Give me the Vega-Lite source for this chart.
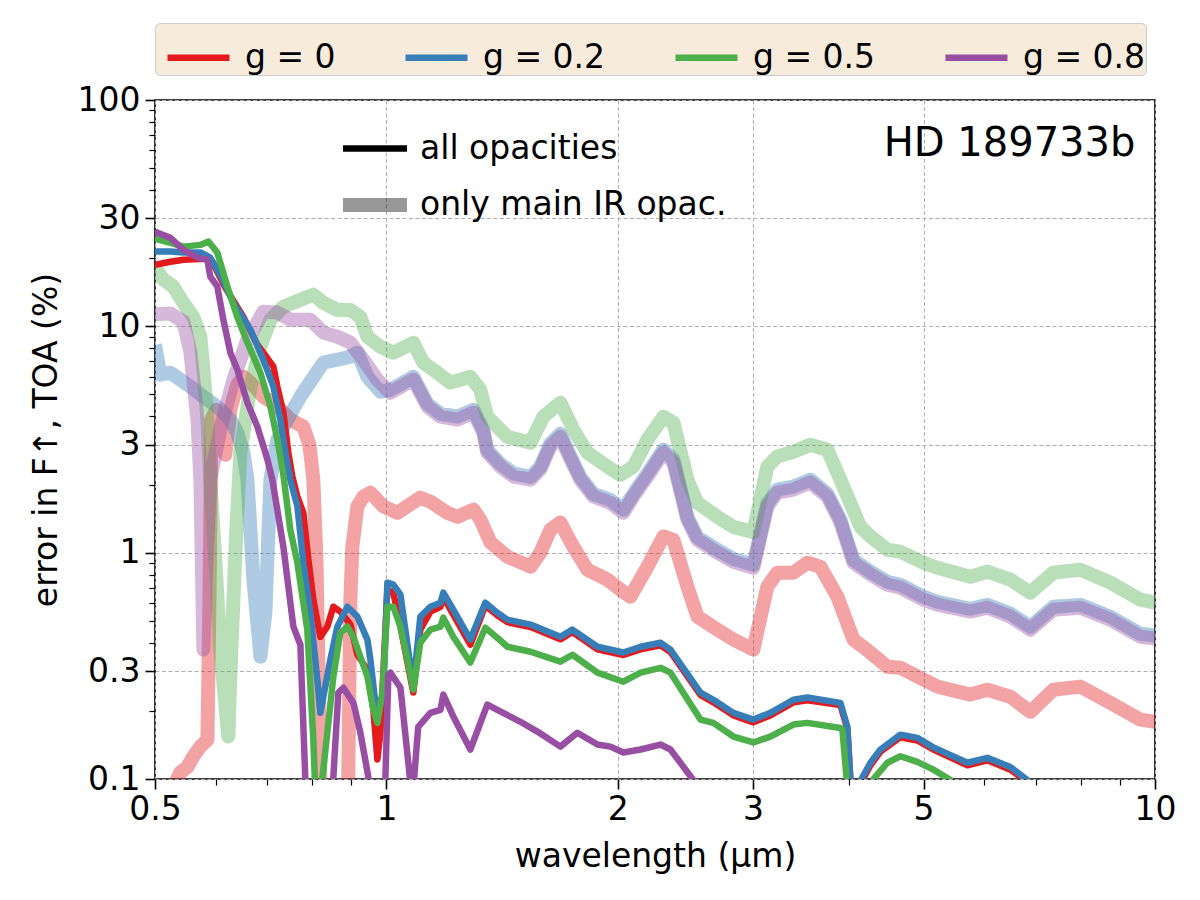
{
"$schema": "https://vega.github.io/schema/vega-lite/v6.json",
"width": 1000, "height": 679,
"autosize": {"type": "none"},
"padding": {"left": 155, "top": 100, "right": 45, "bottom": 121},
"background": "white",
"config": {
  "font": "DejaVu Sans",
  "view": {"stroke": "black", "strokeWidth": 1.6},
  "axis": {"labelFont": "DejaVu Sans", "labelFontSize": 33, "labelColor": "black", "titleFont": "DejaVu Sans", "titleFontSize": 33, "titleFontWeight": "normal", "titleColor": "black", "tickColor": "black", "domain": false, "gridColor": "#b0b0b0", "gridDash": [4, 2.5], "gridWidth": 1},
  "legend": {"labelFont": "DejaVu Sans", "labelFontSize": 33, "labelColor": "black", "labelLimit": 1000}
},
"datasets": {
 "curves": [
  {"g":"g = 0","set":"only main IR opac.","wavelength":0.5158,"error":0.05},
  {"g":"g = 0","set":"only main IR opac.","wavelength":0.5346,"error":0.1},
  {"g":"g = 0","set":"only main IR opac.","wavelength":0.5395,"error":0.107},
  {"g":"g = 0","set":"only main IR opac.","wavelength":0.551,"error":0.113},
  {"g":"g = 0","set":"only main IR opac.","wavelength":0.561,"error":0.126},
  {"g":"g = 0","set":"only main IR opac.","wavelength":0.5728,"error":0.139},
  {"g":"g = 0","set":"only main IR opac.","wavelength":0.585,"error":0.149},
  {"g":"g = 0","set":"only main IR opac.","wavelength":0.5886,"error":0.62},
  {"g":"g = 0","set":"only main IR opac.","wavelength":0.5921,"error":3.87},
  {"g":"g = 0","set":"only main IR opac.","wavelength":0.601,"error":4.28},
  {"g":"g = 0","set":"only main IR opac.","wavelength":0.6101,"error":3.16},
  {"g":"g = 0","set":"only main IR opac.","wavelength":0.6173,"error":2.71},
  {"g":"g = 0","set":"only main IR opac.","wavelength":0.6266,"error":4.28},
  {"g":"g = 0","set":"only main IR opac.","wavelength":0.6398,"error":5.53},
  {"g":"g = 0","set":"only main IR opac.","wavelength":0.6516,"error":5.99},
  {"g":"g = 0","set":"only main IR opac.","wavelength":0.6655,"error":5.64},
  {"g":"g = 0","set":"only main IR opac.","wavelength":0.6795,"error":5.25},
  {"g":"g = 0","set":"only main IR opac.","wavelength":0.6918,"error":4.89},
  {"g":"g = 0","set":"only main IR opac.","wavelength":0.7171,"error":4.51},
  {"g":"g = 0","set":"only main IR opac.","wavelength":0.7345,"error":4.16},
  {"g":"g = 0","set":"only main IR opac.","wavelength":0.75,"error":3.87},
  {"g":"g = 0","set":"only main IR opac.","wavelength":0.7798,"error":3.6},
  {"g":"g = 0","set":"only main IR opac.","wavelength":0.794,"error":3.0},
  {"g":"g = 0","set":"only main IR opac.","wavelength":0.8035,"error":2.1},
  {"g":"g = 0","set":"only main IR opac.","wavelength":0.811,"error":0.931},
  {"g":"g = 0","set":"only main IR opac.","wavelength":0.8156,"error":0.337},
  {"g":"g = 0","set":"only main IR opac.","wavelength":0.8205,"error":0.1},
  {"g":"g = 0","set":"only main IR opac.","wavelength":0.8254,"error":0.05},
  {"g":"g = 0","set":"only main IR opac.","wavelength":0.887,"error":0.05},
  {"g":"g = 0","set":"only main IR opac.","wavelength":0.892,"error":0.1},
  {"g":"g = 0","set":"only main IR opac.","wavelength":0.8978,"error":0.62},
  {"g":"g = 0","set":"only main IR opac.","wavelength":0.903,"error":1.06},
  {"g":"g = 0","set":"only main IR opac.","wavelength":0.9168,"error":1.6},
  {"g":"g = 0","set":"only main IR opac.","wavelength":0.9335,"error":1.77},
  {"g":"g = 0","set":"only main IR opac.","wavelength":0.9532,"error":1.84},
  {"g":"g = 0","set":"only main IR opac.","wavelength":0.9734,"error":1.71},
  {"g":"g = 0","set":"only main IR opac.","wavelength":0.991,"error":1.6},
  {"g":"g = 0","set":"only main IR opac.","wavelength":1.0335,"error":1.5},
  {"g":"g = 0","set":"only main IR opac.","wavelength":1.107,"error":1.75},
  {"g":"g = 0","set":"only main IR opac.","wavelength":1.141,"error":1.68},
  {"g":"g = 0","set":"only main IR opac.","wavelength":1.2,"error":1.5},
  {"g":"g = 0","set":"only main IR opac.","wavelength":1.237,"error":1.44},
  {"g":"g = 0","set":"only main IR opac.","wavelength":1.298,"error":1.55},
  {"g":"g = 0","set":"only main IR opac.","wavelength":1.325,"error":1.4},
  {"g":"g = 0","set":"only main IR opac.","wavelength":1.366,"error":1.11},
  {"g":"g = 0","set":"only main IR opac.","wavelength":1.437,"error":0.96},
  {"g":"g = 0","set":"only main IR opac.","wavelength":1.54,"error":0.867},
  {"g":"g = 0","set":"only main IR opac.","wavelength":1.586,"error":1.0},
  {"g":"g = 0","set":"only main IR opac.","wavelength":1.634,"error":1.26},
  {"g":"g = 0","set":"only main IR opac.","wavelength":1.684,"error":1.36},
  {"g":"g = 0","set":"only main IR opac.","wavelength":1.751,"error":1.06},
  {"g":"g = 0","set":"only main IR opac.","wavelength":1.826,"error":0.841},
  {"g":"g = 0","set":"only main IR opac.","wavelength":1.939,"error":0.76},
  {"g":"g = 0","set":"only main IR opac.","wavelength":2.016,"error":0.686},
  {"g":"g = 0","set":"only main IR opac.","wavelength":2.077,"error":0.639},
  {"g":"g = 0","set":"only main IR opac.","wavelength":2.186,"error":0.867},
  {"g":"g = 0","set":"only main IR opac.","wavelength":2.293,"error":1.18},
  {"g":"g = 0","set":"only main IR opac.","wavelength":2.363,"error":1.14},
  {"g":"g = 0","set":"only main IR opac.","wavelength":2.464,"error":0.708},
  {"g":"g = 0","set":"only main IR opac.","wavelength":2.539,"error":0.522},
  {"g":"g = 0","set":"only main IR opac.","wavelength":2.695,"error":0.457},
  {"g":"g = 0","set":"only main IR opac.","wavelength":2.828,"error":0.413},
  {"g":"g = 0","set":"only main IR opac.","wavelength":3.002,"error":0.373},
  {"g":"g = 0","set":"only main IR opac.","wavelength":3.131,"error":0.708},
  {"g":"g = 0","set":"only main IR opac.","wavelength":3.226,"error":0.816},
  {"g":"g = 0","set":"only main IR opac.","wavelength":3.385,"error":0.816},
  {"g":"g = 0","set":"only main IR opac.","wavelength":3.53,"error":0.903},
  {"g":"g = 0","set":"only main IR opac.","wavelength":3.67,"error":0.867},
  {"g":"g = 0","set":"only main IR opac.","wavelength":3.862,"error":0.639},
  {"g":"g = 0","set":"only main IR opac.","wavelength":4.052,"error":0.413},
  {"g":"g = 0","set":"only main IR opac.","wavelength":4.264,"error":0.362},
  {"g":"g = 0","set":"only main IR opac.","wavelength":4.486,"error":0.313},
  {"g":"g = 0","set":"only main IR opac.","wavelength":4.664,"error":0.31},
  {"g":"g = 0","set":"only main IR opac.","wavelength":4.996,"error":0.275},
  {"g":"g = 0","set":"only main IR opac.","wavelength":5.21,"error":0.256},
  {"g":"g = 0","set":"only main IR opac.","wavelength":5.752,"error":0.236},
  {"g":"g = 0","set":"only main IR opac.","wavelength":6.051,"error":0.248},
  {"g":"g = 0","set":"only main IR opac.","wavelength":6.484,"error":0.231},
  {"g":"g = 0","set":"only main IR opac.","wavelength":6.884,"error":0.198},
  {"g":"g = 0","set":"only main IR opac.","wavelength":7.375,"error":0.248},
  {"g":"g = 0","set":"only main IR opac.","wavelength":7.995,"error":0.256},
  {"g":"g = 0","set":"only main IR opac.","wavelength":8.749,"error":0.217},
  {"g":"g = 0","set":"only main IR opac.","wavelength":9.57,"error":0.183},
  {"g":"g = 0","set":"only main IR opac.","wavelength":10,"error":0.179},

  {"g":"g = 0.2","set":"only main IR opac.","wavelength":0.5,"error":8.3},
  {"g":"g = 0.2","set":"only main IR opac.","wavelength":0.508,"error":6.11},
  {"g":"g = 0.2","set":"only main IR opac.","wavelength":0.5236,"error":6.24},
  {"g":"g = 0.2","set":"only main IR opac.","wavelength":0.556,"error":5.41},
  {"g":"g = 0.2","set":"only main IR opac.","wavelength":0.578,"error":4.89},
  {"g":"g = 0.2","set":"only main IR opac.","wavelength":0.6026,"error":4.42},
  {"g":"g = 0.2","set":"only main IR opac.","wavelength":0.6266,"error":3.87},
  {"g":"g = 0.2","set":"only main IR opac.","wavelength":0.6398,"error":3.39},
  {"g":"g = 0.2","set":"only main IR opac.","wavelength":0.6516,"error":2.77},
  {"g":"g = 0.2","set":"only main IR opac.","wavelength":0.6595,"error":2.1},
  {"g":"g = 0.2","set":"only main IR opac.","wavelength":0.6714,"error":0.76},
  {"g":"g = 0.2","set":"only main IR opac.","wavelength":0.6856,"error":0.347},
  {"g":"g = 0.2","set":"only main IR opac.","wavelength":0.696,"error":0.543},
  {"g":"g = 0.2","set":"only main IR opac.","wavelength":0.7065,"error":2.1},
  {"g":"g = 0.2","set":"only main IR opac.","wavelength":0.7214,"error":3.16},
  {"g":"g = 0.2","set":"only main IR opac.","wavelength":0.7433,"error":3.87},
  {"g":"g = 0.2","set":"only main IR opac.","wavelength":0.7729,"error":4.89},
  {"g":"g = 0.2","set":"only main IR opac.","wavelength":0.7963,"error":5.69},
  {"g":"g = 0.2","set":"only main IR opac.","wavelength":0.8279,"error":6.91},
  {"g":"g = 0.2","set":"only main IR opac.","wavelength":0.8634,"error":7.12},
  {"g":"g = 0.2","set":"only main IR opac.","wavelength":0.8978,"error":7.35},
  {"g":"g = 0.2","set":"only main IR opac.","wavelength":0.9168,"error":7.65},
  {"g":"g = 0.2","set":"only main IR opac.","wavelength":0.9447,"error":5.99},
  {"g":"g = 0.2","set":"only main IR opac.","wavelength":0.9822,"error":5.14},
  {"g":"g = 0.2","set":"only main IR opac.","wavelength":1.012,"error":5.24},
  {"g":"g = 0.2","set":"only main IR opac.","wavelength":1.084,"error":5.98},
  {"g":"g = 0.2","set":"only main IR opac.","wavelength":1.131,"error":4.55},
  {"g":"g = 0.2","set":"only main IR opac.","wavelength":1.176,"error":4.11},
  {"g":"g = 0.2","set":"only main IR opac.","wavelength":1.237,"error":3.99},
  {"g":"g = 0.2","set":"only main IR opac.","wavelength":1.298,"error":4.28},
  {"g":"g = 0.2","set":"only main IR opac.","wavelength":1.337,"error":3.49},
  {"g":"g = 0.2","set":"only main IR opac.","wavelength":1.353,"error":2.85},
  {"g":"g = 0.2","set":"only main IR opac.","wavelength":1.407,"error":2.47},
  {"g":"g = 0.2","set":"only main IR opac.","wavelength":1.463,"error":2.24},
  {"g":"g = 0.2","set":"only main IR opac.","wavelength":1.54,"error":2.16},
  {"g":"g = 0.2","set":"only main IR opac.","wavelength":1.586,"error":2.4},
  {"g":"g = 0.2","set":"only main IR opac.","wavelength":1.634,"error":3.03},
  {"g":"g = 0.2","set":"only main IR opac.","wavelength":1.684,"error":3.35},
  {"g":"g = 0.2","set":"only main IR opac.","wavelength":1.72,"error":2.85},
  {"g":"g = 0.2","set":"only main IR opac.","wavelength":1.788,"error":2.16},
  {"g":"g = 0.2","set":"only main IR opac.","wavelength":1.859,"error":1.82},
  {"g":"g = 0.2","set":"only main IR opac.","wavelength":1.956,"error":1.71},
  {"g":"g = 0.2","set":"only main IR opac.","wavelength":2.034,"error":1.55},
  {"g":"g = 0.2","set":"only main IR opac.","wavelength":2.096,"error":1.82},
  {"g":"g = 0.2","set":"only main IR opac.","wavelength":2.186,"error":2.24},
  {"g":"g = 0.2","set":"only main IR opac.","wavelength":2.293,"error":2.85},
  {"g":"g = 0.2","set":"only main IR opac.","wavelength":2.363,"error":2.58},
  {"g":"g = 0.2","set":"only main IR opac.","wavelength":2.464,"error":1.44},
  {"g":"g = 0.2","set":"only main IR opac.","wavelength":2.539,"error":1.17},
  {"g":"g = 0.2","set":"only main IR opac.","wavelength":2.695,"error":1.03},
  {"g":"g = 0.2","set":"only main IR opac.","wavelength":2.828,"error":0.939},
  {"g":"g = 0.2","set":"only main IR opac.","wavelength":3.002,"error":0.884},
  {"g":"g = 0.2","set":"only main IR opac.","wavelength":3.131,"error":1.65},
  {"g":"g = 0.2","set":"only main IR opac.","wavelength":3.226,"error":1.9},
  {"g":"g = 0.2","set":"only main IR opac.","wavelength":3.385,"error":1.96},
  {"g":"g = 0.2","set":"only main IR opac.","wavelength":3.562,"error":2.1},
  {"g":"g = 0.2","set":"only main IR opac.","wavelength":3.748,"error":1.82},
  {"g":"g = 0.2","set":"only main IR opac.","wavelength":3.897,"error":1.4},
  {"g":"g = 0.2","set":"only main IR opac.","wavelength":4.052,"error":0.93},
  {"g":"g = 0.2","set":"only main IR opac.","wavelength":4.264,"error":0.824},
  {"g":"g = 0.2","set":"only main IR opac.","wavelength":4.486,"error":0.744},
  {"g":"g = 0.2","set":"only main IR opac.","wavelength":4.664,"error":0.721},
  {"g":"g = 0.2","set":"only main IR opac.","wavelength":4.996,"error":0.639},
  {"g":"g = 0.2","set":"only main IR opac.","wavelength":5.21,"error":0.607},
  {"g":"g = 0.2","set":"only main IR opac.","wavelength":5.752,"error":0.565},
  {"g":"g = 0.2","set":"only main IR opac.","wavelength":6.051,"error":0.588},
  {"g":"g = 0.2","set":"only main IR opac.","wavelength":6.484,"error":0.538},
  {"g":"g = 0.2","set":"only main IR opac.","wavelength":6.884,"error":0.471},
  {"g":"g = 0.2","set":"only main IR opac.","wavelength":7.375,"error":0.577},
  {"g":"g = 0.2","set":"only main IR opac.","wavelength":7.995,"error":0.588},
  {"g":"g = 0.2","set":"only main IR opac.","wavelength":8.749,"error":0.521},
  {"g":"g = 0.2","set":"only main IR opac.","wavelength":9.57,"error":0.438},
  {"g":"g = 0.2","set":"only main IR opac.","wavelength":10,"error":0.43},

  {"g":"g = 0.5","set":"only main IR opac.","wavelength":0.5,"error":18.2},
  {"g":"g = 0.5","set":"only main IR opac.","wavelength":0.5127,"error":16.1},
  {"g":"g = 0.5","set":"only main IR opac.","wavelength":0.528,"error":15.0},
  {"g":"g = 0.5","set":"only main IR opac.","wavelength":0.5444,"error":12.7},
  {"g":"g = 0.5","set":"only main IR opac.","wavelength":0.561,"error":11.0},
  {"g":"g = 0.5","set":"only main IR opac.","wavelength":0.5728,"error":9.0},
  {"g":"g = 0.5","set":"only main IR opac.","wavelength":0.578,"error":6.44},
  {"g":"g = 0.5","set":"only main IR opac.","wavelength":0.585,"error":3.87},
  {"g":"g = 0.5","set":"only main IR opac.","wavelength":0.59,"error":2.1},
  {"g":"g = 0.5","set":"only main IR opac.","wavelength":0.599,"error":0.931},
  {"g":"g = 0.5","set":"only main IR opac.","wavelength":0.6081,"error":0.373},
  {"g":"g = 0.5","set":"only main IR opac.","wavelength":0.6228,"error":0.154},
  {"g":"g = 0.5","set":"only main IR opac.","wavelength":0.6285,"error":0.373},
  {"g":"g = 0.5","set":"only main IR opac.","wavelength":0.638,"error":1.26},
  {"g":"g = 0.5","set":"only main IR opac.","wavelength":0.6457,"error":2.77},
  {"g":"g = 0.5","set":"only main IR opac.","wavelength":0.6655,"error":5.41},
  {"g":"g = 0.5","set":"only main IR opac.","wavelength":0.6856,"error":8.13},
  {"g":"g = 0.5","set":"only main IR opac.","wavelength":0.7065,"error":10.7},
  {"g":"g = 0.5","set":"only main IR opac.","wavelength":0.7345,"error":12.2},
  {"g":"g = 0.5","set":"only main IR opac.","wavelength":0.7729,"error":13.1},
  {"g":"g = 0.5","set":"only main IR opac.","wavelength":0.8035,"error":13.8},
  {"g":"g = 0.5","set":"only main IR opac.","wavelength":0.8279,"error":12.7},
  {"g":"g = 0.5","set":"only main IR opac.","wavelength":0.8634,"error":11.8},
  {"g":"g = 0.5","set":"only main IR opac.","wavelength":0.8978,"error":11.8},
  {"g":"g = 0.5","set":"only main IR opac.","wavelength":0.9251,"error":11.0},
  {"g":"g = 0.5","set":"only main IR opac.","wavelength":0.9447,"error":9.0},
  {"g":"g = 0.5","set":"only main IR opac.","wavelength":0.9822,"error":8.13},
  {"g":"g = 0.5","set":"only main IR opac.","wavelength":1.021,"error":7.65},
  {"g":"g = 0.5","set":"only main IR opac.","wavelength":1.084,"error":8.47},
  {"g":"g = 0.5","set":"only main IR opac.","wavelength":1.117,"error":6.91},
  {"g":"g = 0.5","set":"only main IR opac.","wavelength":1.165,"error":6.24},
  {"g":"g = 0.5","set":"only main IR opac.","wavelength":1.211,"error":5.64},
  {"g":"g = 0.5","set":"only main IR opac.","wavelength":1.286,"error":5.99},
  {"g":"g = 0.5","set":"only main IR opac.","wavelength":1.325,"error":5.25},
  {"g":"g = 0.5","set":"only main IR opac.","wavelength":1.353,"error":3.99},
  {"g":"g = 0.5","set":"only main IR opac.","wavelength":1.437,"error":3.25},
  {"g":"g = 0.5","set":"only main IR opac.","wavelength":1.54,"error":3.06},
  {"g":"g = 0.5","set":"only main IR opac.","wavelength":1.601,"error":3.99},
  {"g":"g = 0.5","set":"only main IR opac.","wavelength":1.684,"error":4.6},
  {"g":"g = 0.5","set":"only main IR opac.","wavelength":1.751,"error":3.5},
  {"g":"g = 0.5","set":"only main IR opac.","wavelength":1.826,"error":2.77},
  {"g":"g = 0.5","set":"only main IR opac.","wavelength":1.939,"error":2.4},
  {"g":"g = 0.5","set":"only main IR opac.","wavelength":2.016,"error":2.21},
  {"g":"g = 0.5","set":"only main IR opac.","wavelength":2.096,"error":2.4},
  {"g":"g = 0.5","set":"only main IR opac.","wavelength":2.186,"error":3.16},
  {"g":"g = 0.5","set":"only main IR opac.","wavelength":2.293,"error":3.99},
  {"g":"g = 0.5","set":"only main IR opac.","wavelength":2.363,"error":3.75},
  {"g":"g = 0.5","set":"only main IR opac.","wavelength":2.464,"error":2.1},
  {"g":"g = 0.5","set":"only main IR opac.","wavelength":2.539,"error":1.66},
  {"g":"g = 0.5","set":"only main IR opac.","wavelength":2.695,"error":1.44},
  {"g":"g = 0.5","set":"only main IR opac.","wavelength":2.828,"error":1.3},
  {"g":"g = 0.5","set":"only main IR opac.","wavelength":3.002,"error":1.23},
  {"g":"g = 0.5","set":"only main IR opac.","wavelength":3.131,"error":2.4},
  {"g":"g = 0.5","set":"only main IR opac.","wavelength":3.226,"error":2.66},
  {"g":"g = 0.5","set":"only main IR opac.","wavelength":3.385,"error":2.79},
  {"g":"g = 0.5","set":"only main IR opac.","wavelength":3.562,"error":3.0},
  {"g":"g = 0.5","set":"only main IR opac.","wavelength":3.748,"error":2.85},
  {"g":"g = 0.5","set":"only main IR opac.","wavelength":3.897,"error":2.1},
  {"g":"g = 0.5","set":"only main IR opac.","wavelength":4.138,"error":1.3},
  {"g":"g = 0.5","set":"only main IR opac.","wavelength":4.264,"error":1.18},
  {"g":"g = 0.5","set":"only main IR opac.","wavelength":4.486,"error":1.03},
  {"g":"g = 0.5","set":"only main IR opac.","wavelength":4.664,"error":1.01},
  {"g":"g = 0.5","set":"only main IR opac.","wavelength":4.996,"error":0.903},
  {"g":"g = 0.5","set":"only main IR opac.","wavelength":5.21,"error":0.858},
  {"g":"g = 0.5","set":"only main IR opac.","wavelength":5.752,"error":0.783},
  {"g":"g = 0.5","set":"only main IR opac.","wavelength":6.051,"error":0.824},
  {"g":"g = 0.5","set":"only main IR opac.","wavelength":6.484,"error":0.76},
  {"g":"g = 0.5","set":"only main IR opac.","wavelength":6.884,"error":0.666},
  {"g":"g = 0.5","set":"only main IR opac.","wavelength":7.375,"error":0.816},
  {"g":"g = 0.5","set":"only main IR opac.","wavelength":7.995,"error":0.841},
  {"g":"g = 0.5","set":"only main IR opac.","wavelength":8.749,"error":0.737},
  {"g":"g = 0.5","set":"only main IR opac.","wavelength":9.57,"error":0.62},
  {"g":"g = 0.5","set":"only main IR opac.","wavelength":10,"error":0.601},

  {"g":"g = 0.8","set":"only main IR opac.","wavelength":0.5,"error":11.3},
  {"g":"g = 0.8","set":"only main IR opac.","wavelength":0.5236,"error":11.4},
  {"g":"g = 0.8","set":"only main IR opac.","wavelength":0.5444,"error":10.5},
  {"g":"g = 0.8","set":"only main IR opac.","wavelength":0.556,"error":7.65},
  {"g":"g = 0.8","set":"only main IR opac.","wavelength":0.5678,"error":3.87},
  {"g":"g = 0.8","set":"only main IR opac.","wavelength":0.5728,"error":2.1},
  {"g":"g = 0.8","set":"only main IR opac.","wavelength":0.578,"error":0.373},
  {"g":"g = 0.8","set":"only main IR opac.","wavelength":0.5833,"error":0.931},
  {"g":"g = 0.8","set":"only main IR opac.","wavelength":0.59,"error":2.1},
  {"g":"g = 0.8","set":"only main IR opac.","wavelength":0.6081,"error":3.5},
  {"g":"g = 0.8","set":"only main IR opac.","wavelength":0.6323,"error":5.81},
  {"g":"g = 0.8","set":"only main IR opac.","wavelength":0.6595,"error":8.73},
  {"g":"g = 0.8","set":"only main IR opac.","wavelength":0.6918,"error":11.6},
  {"g":"g = 0.8","set":"only main IR opac.","wavelength":0.7214,"error":11.5},
  {"g":"g = 0.8","set":"only main IR opac.","wavelength":0.75,"error":10.7},
  {"g":"g = 0.8","set":"only main IR opac.","wavelength":0.7963,"error":10.7},
  {"g":"g = 0.8","set":"only main IR opac.","wavelength":0.8279,"error":9.38},
  {"g":"g = 0.8","set":"only main IR opac.","wavelength":0.8634,"error":9.0},
  {"g":"g = 0.8","set":"only main IR opac.","wavelength":0.8978,"error":8.47},
  {"g":"g = 0.8","set":"only main IR opac.","wavelength":0.9335,"error":7.12},
  {"g":"g = 0.8","set":"only main IR opac.","wavelength":0.9734,"error":5.81},
  {"g":"g = 0.8","set":"only main IR opac.","wavelength":1.012,"error":5.09},
  {"g":"g = 0.8","set":"only main IR opac.","wavelength":1.084,"error":5.81},
  {"g":"g = 0.8","set":"only main IR opac.","wavelength":1.131,"error":4.42},
  {"g":"g = 0.8","set":"only main IR opac.","wavelength":1.176,"error":3.99},
  {"g":"g = 0.8","set":"only main IR opac.","wavelength":1.237,"error":3.87},
  {"g":"g = 0.8","set":"only main IR opac.","wavelength":1.298,"error":4.16},
  {"g":"g = 0.8","set":"only main IR opac.","wavelength":1.337,"error":3.39},
  {"g":"g = 0.8","set":"only main IR opac.","wavelength":1.353,"error":2.77},
  {"g":"g = 0.8","set":"only main IR opac.","wavelength":1.407,"error":2.4},
  {"g":"g = 0.8","set":"only main IR opac.","wavelength":1.463,"error":2.17},
  {"g":"g = 0.8","set":"only main IR opac.","wavelength":1.54,"error":2.1},
  {"g":"g = 0.8","set":"only main IR opac.","wavelength":1.586,"error":2.33},
  {"g":"g = 0.8","set":"only main IR opac.","wavelength":1.634,"error":2.94},
  {"g":"g = 0.8","set":"only main IR opac.","wavelength":1.684,"error":3.25},
  {"g":"g = 0.8","set":"only main IR opac.","wavelength":1.72,"error":2.77},
  {"g":"g = 0.8","set":"only main IR opac.","wavelength":1.788,"error":2.1},
  {"g":"g = 0.8","set":"only main IR opac.","wavelength":1.859,"error":1.77},
  {"g":"g = 0.8","set":"only main IR opac.","wavelength":1.956,"error":1.66},
  {"g":"g = 0.8","set":"only main IR opac.","wavelength":2.034,"error":1.5},
  {"g":"g = 0.8","set":"only main IR opac.","wavelength":2.096,"error":1.77},
  {"g":"g = 0.8","set":"only main IR opac.","wavelength":2.186,"error":2.17},
  {"g":"g = 0.8","set":"only main IR opac.","wavelength":2.293,"error":2.77},
  {"g":"g = 0.8","set":"only main IR opac.","wavelength":2.363,"error":2.5},
  {"g":"g = 0.8","set":"only main IR opac.","wavelength":2.464,"error":1.4},
  {"g":"g = 0.8","set":"only main IR opac.","wavelength":2.539,"error":1.14},
  {"g":"g = 0.8","set":"only main IR opac.","wavelength":2.695,"error":1.0},
  {"g":"g = 0.8","set":"only main IR opac.","wavelength":2.828,"error":0.912},
  {"g":"g = 0.8","set":"only main IR opac.","wavelength":3.002,"error":0.858},
  {"g":"g = 0.8","set":"only main IR opac.","wavelength":3.131,"error":1.6},
  {"g":"g = 0.8","set":"only main IR opac.","wavelength":3.226,"error":1.84},
  {"g":"g = 0.8","set":"only main IR opac.","wavelength":3.385,"error":1.9},
  {"g":"g = 0.8","set":"only main IR opac.","wavelength":3.562,"error":2.04},
  {"g":"g = 0.8","set":"only main IR opac.","wavelength":3.748,"error":1.77},
  {"g":"g = 0.8","set":"only main IR opac.","wavelength":3.897,"error":1.36},
  {"g":"g = 0.8","set":"only main IR opac.","wavelength":4.052,"error":0.903},
  {"g":"g = 0.8","set":"only main IR opac.","wavelength":4.264,"error":0.8},
  {"g":"g = 0.8","set":"only main IR opac.","wavelength":4.486,"error":0.722},
  {"g":"g = 0.8","set":"only main IR opac.","wavelength":4.664,"error":0.7},
  {"g":"g = 0.8","set":"only main IR opac.","wavelength":4.996,"error":0.62},
  {"g":"g = 0.8","set":"only main IR opac.","wavelength":5.21,"error":0.589},
  {"g":"g = 0.8","set":"only main IR opac.","wavelength":5.752,"error":0.549},
  {"g":"g = 0.8","set":"only main IR opac.","wavelength":6.051,"error":0.571},
  {"g":"g = 0.8","set":"only main IR opac.","wavelength":6.484,"error":0.522},
  {"g":"g = 0.8","set":"only main IR opac.","wavelength":6.884,"error":0.457},
  {"g":"g = 0.8","set":"only main IR opac.","wavelength":7.375,"error":0.56},
  {"g":"g = 0.8","set":"only main IR opac.","wavelength":7.995,"error":0.571},
  {"g":"g = 0.8","set":"only main IR opac.","wavelength":8.749,"error":0.506},
  {"g":"g = 0.8","set":"only main IR opac.","wavelength":9.57,"error":0.425},
  {"g":"g = 0.8","set":"only main IR opac.","wavelength":10,"error":0.417},

  {"g":"g = 0","set":"all opacities","wavelength":0.5,"error":18.7},
  {"g":"g = 0","set":"all opacities","wavelength":0.5236,"error":19.3},
  {"g":"g = 0","set":"all opacities","wavelength":0.5444,"error":19.7},
  {"g":"g = 0","set":"all opacities","wavelength":0.5815,"error":19.9},
  {"g":"g = 0","set":"all opacities","wavelength":0.5936,"error":19.3},
  {"g":"g = 0","set":"all opacities","wavelength":0.6173,"error":14.8},
  {"g":"g = 0","set":"all opacities","wavelength":0.6516,"error":11.0},
  {"g":"g = 0","set":"all opacities","wavelength":0.6795,"error":8.3},
  {"g":"g = 0","set":"all opacities","wavelength":0.6918,"error":7.65},
  {"g":"g = 0","set":"all opacities","wavelength":0.7129,"error":6.63},
  {"g":"g = 0","set":"all opacities","wavelength":0.7214,"error":5.41},
  {"g":"g = 0","set":"all opacities","wavelength":0.7345,"error":4.16},
  {"g":"g = 0","set":"all opacities","wavelength":0.7455,"error":2.77},
  {"g":"g = 0","set":"all opacities","wavelength":0.7545,"error":2.17},
  {"g":"g = 0","set":"all opacities","wavelength":0.766,"error":1.77},
  {"g":"g = 0","set":"all opacities","wavelength":0.7798,"error":1.5},
  {"g":"g = 0","set":"all opacities","wavelength":0.7916,"error":0.931},
  {"g":"g = 0","set":"all opacities","wavelength":0.8035,"error":0.62},
  {"g":"g = 0","set":"all opacities","wavelength":0.8205,"error":0.425},
  {"g":"g = 0","set":"all opacities","wavelength":0.8379,"error":0.471},
  {"g":"g = 0","set":"all opacities","wavelength":0.8531,"error":0.577},
  {"g":"g = 0","set":"all opacities","wavelength":0.8711,"error":0.549},
  {"g":"g = 0","set":"all opacities","wavelength":0.8978,"error":0.481},
  {"g":"g = 0","set":"all opacities","wavelength":0.9168,"error":0.354},
  {"g":"g = 0","set":"all opacities","wavelength":0.9447,"error":0.304},
  {"g":"g = 0","set":"all opacities","wavelength":0.9618,"error":0.202},
  {"g":"g = 0","set":"all opacities","wavelength":0.9734,"error":0.122},
  {"g":"g = 0","set":"all opacities","wavelength":0.9822,"error":0.16},
  {"g":"g = 0","set":"all opacities","wavelength":1.003,"error":0.686},
  {"g":"g = 0","set":"all opacities","wavelength":1.021,"error":0.666},
  {"g":"g = 0","set":"all opacities","wavelength":1.043,"error":0.471},
  {"g":"g = 0","set":"all opacities","wavelength":1.084,"error":0.241},
  {"g":"g = 0","set":"all opacities","wavelength":1.107,"error":0.457},
  {"g":"g = 0","set":"all opacities","wavelength":1.141,"error":0.549},
  {"g":"g = 0","set":"all opacities","wavelength":1.176,"error":0.577},
  {"g":"g = 0","set":"all opacities","wavelength":1.186,"error":0.639},
  {"g":"g = 0","set":"all opacities","wavelength":1.222,"error":0.532},
  {"g":"g = 0","set":"all opacities","wavelength":1.286,"error":0.392},
  {"g":"g = 0","set":"all opacities","wavelength":1.345,"error":0.583},
  {"g":"g = 0","set":"all opacities","wavelength":1.394,"error":0.529},
  {"g":"g = 0","set":"all opacities","wavelength":1.437,"error":0.493},
  {"g":"g = 0","set":"all opacities","wavelength":1.54,"error":0.469},
  {"g":"g = 0","set":"all opacities","wavelength":1.684,"error":0.414},
  {"g":"g = 0","set":"all opacities","wavelength":1.746,"error":0.446},
  {"g":"g = 0","set":"all opacities","wavelength":1.882,"error":0.374},
  {"g":"g = 0","set":"all opacities","wavelength":2.034,"error":0.353},
  {"g":"g = 0","set":"all opacities","wavelength":2.141,"error":0.374},
  {"g":"g = 0","set":"all opacities","wavelength":2.273,"error":0.39},
  {"g":"g = 0","set":"all opacities","wavelength":2.342,"error":0.364},
  {"g":"g = 0","set":"all opacities","wavelength":2.562,"error":0.235},
  {"g":"g = 0","set":"all opacities","wavelength":2.663,"error":0.218},
  {"g":"g = 0","set":"all opacities","wavelength":2.828,"error":0.191},
  {"g":"g = 0","set":"all opacities","wavelength":3.002,"error":0.178},
  {"g":"g = 0","set":"all opacities","wavelength":3.159,"error":0.191},
  {"g":"g = 0","set":"all opacities","wavelength":3.385,"error":0.218},
  {"g":"g = 0","set":"all opacities","wavelength":3.53,"error":0.223},
  {"g":"g = 0","set":"all opacities","wavelength":3.897,"error":0.212},
  {"g":"g = 0","set":"all opacities","wavelength":3.979,"error":0.166},
  {"g":"g = 0","set":"all opacities","wavelength":4.063,"error":0.05},
  {"g":"g = 0","set":"all opacities","wavelength":4.15,"error":0.097},
  {"g":"g = 0","set":"all opacities","wavelength":4.264,"error":0.115},
  {"g":"g = 0","set":"all opacities","wavelength":4.393,"error":0.132},
  {"g":"g = 0","set":"all opacities","wavelength":4.664,"error":0.153},
  {"g":"g = 0","set":"all opacities","wavelength":4.907,"error":0.148},
  {"g":"g = 0","set":"all opacities","wavelength":5.148,"error":0.135},
  {"g":"g = 0","set":"all opacities","wavelength":5.701,"error":0.115},
  {"g":"g = 0","set":"all opacities","wavelength":6.051,"error":0.121},
  {"g":"g = 0","set":"all opacities","wavelength":6.484,"error":0.11},
  {"g":"g = 0","set":"all opacities","wavelength":6.823,"error":0.097},
  {"g":"g = 0","set":"all opacities","wavelength":7.2,"error":0.06},

  {"g":"g = 0.2","set":"all opacities","wavelength":0.5,"error":21.4},
  {"g":"g = 0.2","set":"all opacities","wavelength":0.5236,"error":21.4},
  {"g":"g = 0.2","set":"all opacities","wavelength":0.5444,"error":21.2},
  {"g":"g = 0.2","set":"all opacities","wavelength":0.5728,"error":21.2},
  {"g":"g = 0.2","set":"all opacities","wavelength":0.59,"error":20.1},
  {"g":"g = 0.2","set":"all opacities","wavelength":0.6081,"error":16.9},
  {"g":"g = 0.2","set":"all opacities","wavelength":0.6323,"error":12.7},
  {"g":"g = 0.2","set":"all opacities","wavelength":0.6655,"error":9.67},
  {"g":"g = 0.2","set":"all opacities","wavelength":0.6918,"error":7.12},
  {"g":"g = 0.2","set":"all opacities","wavelength":0.7129,"error":5.41},
  {"g":"g = 0.2","set":"all opacities","wavelength":0.7279,"error":3.87},
  {"g":"g = 0.2","set":"all opacities","wavelength":0.7389,"error":2.77},
  {"g":"g = 0.2","set":"all opacities","wavelength":0.75,"error":2.1},
  {"g":"g = 0.2","set":"all opacities","wavelength":0.766,"error":1.6},
  {"g":"g = 0.2","set":"all opacities","wavelength":0.7798,"error":0.903},
  {"g":"g = 0.2","set":"all opacities","wavelength":0.7963,"error":0.543},
  {"g":"g = 0.2","set":"all opacities","wavelength":0.8131,"error":0.275},
  {"g":"g = 0.2","set":"all opacities","wavelength":0.8205,"error":0.196},
  {"g":"g = 0.2","set":"all opacities","wavelength":0.8455,"error":0.337},
  {"g":"g = 0.2","set":"all opacities","wavelength":0.8634,"error":0.471},
  {"g":"g = 0.2","set":"all opacities","wavelength":0.8898,"error":0.577},
  {"g":"g = 0.2","set":"all opacities","wavelength":0.9168,"error":0.522},
  {"g":"g = 0.2","set":"all opacities","wavelength":0.9447,"error":0.413},
  {"g":"g = 0.2","set":"all opacities","wavelength":0.9532,"error":0.337},
  {"g":"g = 0.2","set":"all opacities","wavelength":0.9676,"error":0.217},
  {"g":"g = 0.2","set":"all opacities","wavelength":0.9763,"error":0.202},
  {"g":"g = 0.2","set":"all opacities","wavelength":0.991,"error":0.241},
  {"g":"g = 0.2","set":"all opacities","wavelength":1.003,"error":0.737},
  {"g":"g = 0.2","set":"all opacities","wavelength":1.021,"error":0.722},
  {"g":"g = 0.2","set":"all opacities","wavelength":1.043,"error":0.652},
  {"g":"g = 0.2","set":"all opacities","wavelength":1.084,"error":0.256},
  {"g":"g = 0.2","set":"all opacities","wavelength":1.107,"error":0.522},
  {"g":"g = 0.2","set":"all opacities","wavelength":1.141,"error":0.577},
  {"g":"g = 0.2","set":"all opacities","wavelength":1.176,"error":0.601},
  {"g":"g = 0.2","set":"all opacities","wavelength":1.186,"error":0.666},
  {"g":"g = 0.2","set":"all opacities","wavelength":1.222,"error":0.56},
  {"g":"g = 0.2","set":"all opacities","wavelength":1.286,"error":0.413},
  {"g":"g = 0.2","set":"all opacities","wavelength":1.345,"error":0.601},
  {"g":"g = 0.2","set":"all opacities","wavelength":1.394,"error":0.543},
  {"g":"g = 0.2","set":"all opacities","wavelength":1.437,"error":0.506},
  {"g":"g = 0.2","set":"all opacities","wavelength":1.54,"error":0.481},
  {"g":"g = 0.2","set":"all opacities","wavelength":1.684,"error":0.425},
  {"g":"g = 0.2","set":"all opacities","wavelength":1.746,"error":0.457},
  {"g":"g = 0.2","set":"all opacities","wavelength":1.882,"error":0.384},
  {"g":"g = 0.2","set":"all opacities","wavelength":2.034,"error":0.362},
  {"g":"g = 0.2","set":"all opacities","wavelength":2.141,"error":0.384},
  {"g":"g = 0.2","set":"all opacities","wavelength":2.273,"error":0.4},
  {"g":"g = 0.2","set":"all opacities","wavelength":2.342,"error":0.373},
  {"g":"g = 0.2","set":"all opacities","wavelength":2.562,"error":0.241},
  {"g":"g = 0.2","set":"all opacities","wavelength":2.663,"error":0.224},
  {"g":"g = 0.2","set":"all opacities","wavelength":2.828,"error":0.196},
  {"g":"g = 0.2","set":"all opacities","wavelength":3.002,"error":0.183},
  {"g":"g = 0.2","set":"all opacities","wavelength":3.159,"error":0.196},
  {"g":"g = 0.2","set":"all opacities","wavelength":3.385,"error":0.224},
  {"g":"g = 0.2","set":"all opacities","wavelength":3.53,"error":0.229},
  {"g":"g = 0.2","set":"all opacities","wavelength":3.897,"error":0.217},
  {"g":"g = 0.2","set":"all opacities","wavelength":3.979,"error":0.17},
  {"g":"g = 0.2","set":"all opacities","wavelength":4.063,"error":0.05},
  {"g":"g = 0.2","set":"all opacities","wavelength":4.15,"error":0.1},
  {"g":"g = 0.2","set":"all opacities","wavelength":4.264,"error":0.118},
  {"g":"g = 0.2","set":"all opacities","wavelength":4.393,"error":0.135},
  {"g":"g = 0.2","set":"all opacities","wavelength":4.664,"error":0.157},
  {"g":"g = 0.2","set":"all opacities","wavelength":4.907,"error":0.152},
  {"g":"g = 0.2","set":"all opacities","wavelength":5.148,"error":0.138},
  {"g":"g = 0.2","set":"all opacities","wavelength":5.701,"error":0.118},
  {"g":"g = 0.2","set":"all opacities","wavelength":6.051,"error":0.124},
  {"g":"g = 0.2","set":"all opacities","wavelength":6.484,"error":0.113},
  {"g":"g = 0.2","set":"all opacities","wavelength":6.823,"error":0.099},
  {"g":"g = 0.2","set":"all opacities","wavelength":7.2,"error":0.06},

  {"g":"g = 0.5","set":"all opacities","wavelength":0.5,"error":24.4},
  {"g":"g = 0.5","set":"all opacities","wavelength":0.5236,"error":23.4},
  {"g":"g = 0.5","set":"all opacities","wavelength":0.5444,"error":22.5},
  {"g":"g = 0.5","set":"all opacities","wavelength":0.5728,"error":22.9},
  {"g":"g = 0.5","set":"all opacities","wavelength":0.5868,"error":23.7},
  {"g":"g = 0.5","set":"all opacities","wavelength":0.6026,"error":21.2},
  {"g":"g = 0.5","set":"all opacities","wavelength":0.621,"error":15.0},
  {"g":"g = 0.5","set":"all opacities","wavelength":0.6398,"error":11.0},
  {"g":"g = 0.5","set":"all opacities","wavelength":0.6595,"error":8.47},
  {"g":"g = 0.5","set":"all opacities","wavelength":0.6856,"error":6.24},
  {"g":"g = 0.5","set":"all opacities","wavelength":0.7065,"error":4.42},
  {"g":"g = 0.5","set":"all opacities","wavelength":0.7214,"error":3.16},
  {"g":"g = 0.5","set":"all opacities","wavelength":0.7345,"error":2.21},
  {"g":"g = 0.5","set":"all opacities","wavelength":0.75,"error":1.26},
  {"g":"g = 0.5","set":"all opacities","wavelength":0.766,"error":0.903},
  {"g":"g = 0.5","set":"all opacities","wavelength":0.789,"error":0.457},
  {"g":"g = 0.5","set":"all opacities","wavelength":0.8035,"error":0.149},
  {"g":"g = 0.5","set":"all opacities","wavelength":0.8131,"error":0.05},
  {"g":"g = 0.5","set":"all opacities","wavelength":0.8254,"error":0.1},
  {"g":"g = 0.5","set":"all opacities","wavelength":0.8531,"error":0.283},
  {"g":"g = 0.5","set":"all opacities","wavelength":0.8711,"error":0.443},
  {"g":"g = 0.5","set":"all opacities","wavelength":0.8898,"error":0.471},
  {"g":"g = 0.5","set":"all opacities","wavelength":0.9059,"error":0.425},
  {"g":"g = 0.5","set":"all opacities","wavelength":0.9251,"error":0.347},
  {"g":"g = 0.5","set":"all opacities","wavelength":0.9447,"error":0.283},
  {"g":"g = 0.5","set":"all opacities","wavelength":0.9618,"error":0.202},
  {"g":"g = 0.5","set":"all opacities","wavelength":0.9734,"error":0.177},
  {"g":"g = 0.5","set":"all opacities","wavelength":0.9881,"error":0.241},
  {"g":"g = 0.5","set":"all opacities","wavelength":1.003,"error":0.577},
  {"g":"g = 0.5","set":"all opacities","wavelength":1.021,"error":0.577},
  {"g":"g = 0.5","set":"all opacities","wavelength":1.043,"error":0.471},
  {"g":"g = 0.5","set":"all opacities","wavelength":1.065,"error":0.337},
  {"g":"g = 0.5","set":"all opacities","wavelength":1.084,"error":0.248},
  {"g":"g = 0.5","set":"all opacities","wavelength":1.107,"error":0.4},
  {"g":"g = 0.5","set":"all opacities","wavelength":1.141,"error":0.457},
  {"g":"g = 0.5","set":"all opacities","wavelength":1.176,"error":0.471},
  {"g":"g = 0.5","set":"all opacities","wavelength":1.186,"error":0.516},
  {"g":"g = 0.5","set":"all opacities","wavelength":1.222,"error":0.425},
  {"g":"g = 0.5","set":"all opacities","wavelength":1.286,"error":0.327},
  {"g":"g = 0.5","set":"all opacities","wavelength":1.345,"error":0.466},
  {"g":"g = 0.5","set":"all opacities","wavelength":1.394,"error":0.421},
  {"g":"g = 0.5","set":"all opacities","wavelength":1.437,"error":0.384},
  {"g":"g = 0.5","set":"all opacities","wavelength":1.54,"error":0.365},
  {"g":"g = 0.5","set":"all opacities","wavelength":1.684,"error":0.33},
  {"g":"g = 0.5","set":"all opacities","wavelength":1.746,"error":0.354},
  {"g":"g = 0.5","set":"all opacities","wavelength":1.882,"error":0.295},
  {"g":"g = 0.5","set":"all opacities","wavelength":2.034,"error":0.269},
  {"g":"g = 0.5","set":"all opacities","wavelength":2.141,"error":0.295},
  {"g":"g = 0.5","set":"all opacities","wavelength":2.273,"error":0.31},
  {"g":"g = 0.5","set":"all opacities","wavelength":2.342,"error":0.295},
  {"g":"g = 0.5","set":"all opacities","wavelength":2.562,"error":0.183},
  {"g":"g = 0.5","set":"all opacities","wavelength":2.663,"error":0.177},
  {"g":"g = 0.5","set":"all opacities","wavelength":2.828,"error":0.154},
  {"g":"g = 0.5","set":"all opacities","wavelength":3.002,"error":0.145},
  {"g":"g = 0.5","set":"all opacities","wavelength":3.159,"error":0.154},
  {"g":"g = 0.5","set":"all opacities","wavelength":3.385,"error":0.174},
  {"g":"g = 0.5","set":"all opacities","wavelength":3.53,"error":0.177},
  {"g":"g = 0.5","set":"all opacities","wavelength":3.897,"error":0.168},
  {"g":"g = 0.5","set":"all opacities","wavelength":3.92,"error":0.165},
  {"g":"g = 0.5","set":"all opacities","wavelength":4.04,"error":0.05},
  {"g":"g = 0.5","set":"all opacities","wavelength":4.212,"error":0.05},
  {"g":"g = 0.5","set":"all opacities","wavelength":4.302,"error":0.1},
  {"g":"g = 0.5","set":"all opacities","wavelength":4.486,"error":0.118},
  {"g":"g = 0.5","set":"all opacities","wavelength":4.664,"error":0.126},
  {"g":"g = 0.5","set":"all opacities","wavelength":4.907,"error":0.119},
  {"g":"g = 0.5","set":"all opacities","wavelength":5.148,"error":0.11},
  {"g":"g = 0.5","set":"all opacities","wavelength":5.418,"error":0.099},
  {"g":"g = 0.5","set":"all opacities","wavelength":5.667,"error":0.06},

  {"g":"g = 0.8","set":"all opacities","wavelength":0.5,"error":26.2},
  {"g":"g = 0.8","set":"all opacities","wavelength":0.5236,"error":24.6},
  {"g":"g = 0.8","set":"all opacities","wavelength":0.5444,"error":21.8},
  {"g":"g = 0.8","set":"all opacities","wavelength":0.5678,"error":20.1},
  {"g":"g = 0.8","set":"all opacities","wavelength":0.585,"error":19.7},
  {"g":"g = 0.8","set":"all opacities","wavelength":0.59,"error":16.6},
  {"g":"g = 0.8","set":"all opacities","wavelength":0.6026,"error":15.0},
  {"g":"g = 0.8","set":"all opacities","wavelength":0.6136,"error":10.7},
  {"g":"g = 0.8","set":"all opacities","wavelength":0.6266,"error":7.65},
  {"g":"g = 0.8","set":"all opacities","wavelength":0.6398,"error":6.44},
  {"g":"g = 0.8","set":"all opacities","wavelength":0.6595,"error":4.6},
  {"g":"g = 0.8","set":"all opacities","wavelength":0.6795,"error":3.6},
  {"g":"g = 0.8","set":"all opacities","wavelength":0.7002,"error":2.58},
  {"g":"g = 0.8","set":"all opacities","wavelength":0.7107,"error":2.1},
  {"g":"g = 0.8","set":"all opacities","wavelength":0.7345,"error":1.06},
  {"g":"g = 0.8","set":"all opacities","wavelength":0.7568,"error":0.471},
  {"g":"g = 0.8","set":"all opacities","wavelength":0.7729,"error":0.392},
  {"g":"g = 0.8","set":"all opacities","wavelength":0.7844,"error":0.1},
  {"g":"g = 0.8","set":"all opacities","wavelength":0.7913,"error":0.05},
  {"g":"g = 0.8","set":"all opacities","wavelength":0.848,"error":0.05},
  {"g":"g = 0.8","set":"all opacities","wavelength":0.8531,"error":0.102},
  {"g":"g = 0.8","set":"all opacities","wavelength":0.866,"error":0.241},
  {"g":"g = 0.8","set":"all opacities","wavelength":0.8792,"error":0.253},
  {"g":"g = 0.8","set":"all opacities","wavelength":0.9059,"error":0.217},
  {"g":"g = 0.8","set":"all opacities","wavelength":0.9251,"error":0.16},
  {"g":"g = 0.8","set":"all opacities","wavelength":0.9475,"error":0.102},
  {"g":"g = 0.8","set":"all opacities","wavelength":0.956,"error":0.05},
  {"g":"g = 0.8","set":"all opacities","wavelength":0.991,"error":0.05},
  {"g":"g = 0.8","set":"all opacities","wavelength":1.006,"error":0.289},
  {"g":"g = 0.8","set":"all opacities","wavelength":1.012,"error":0.295},
  {"g":"g = 0.8","set":"all opacities","wavelength":1.043,"error":0.253},
  {"g":"g = 0.8","set":"all opacities","wavelength":1.081,"error":0.08},
  {"g":"g = 0.8","set":"all opacities","wavelength":1.1,"error":0.17},
  {"g":"g = 0.8","set":"all opacities","wavelength":1.141,"error":0.196},
  {"g":"g = 0.8","set":"all opacities","wavelength":1.176,"error":0.202},
  {"g":"g = 0.8","set":"all opacities","wavelength":1.186,"error":0.236},
  {"g":"g = 0.8","set":"all opacities","wavelength":1.222,"error":0.189},
  {"g":"g = 0.8","set":"all opacities","wavelength":1.286,"error":0.135},
  {"g":"g = 0.8","set":"all opacities","wavelength":1.353,"error":0.213},
  {"g":"g = 0.8","set":"all opacities","wavelength":1.394,"error":0.202},
  {"g":"g = 0.8","set":"all opacities","wavelength":1.494,"error":0.179},
  {"g":"g = 0.8","set":"all opacities","wavelength":1.572,"error":0.162},
  {"g":"g = 0.8","set":"all opacities","wavelength":1.684,"error":0.139},
  {"g":"g = 0.8","set":"all opacities","wavelength":1.772,"error":0.16},
  {"g":"g = 0.8","set":"all opacities","wavelength":1.882,"error":0.142},
  {"g":"g = 0.8","set":"all opacities","wavelength":1.956,"error":0.139},
  {"g":"g = 0.8","set":"all opacities","wavelength":2.034,"error":0.131},
  {"g":"g = 0.8","set":"all opacities","wavelength":2.141,"error":0.135},
  {"g":"g = 0.8","set":"all opacities","wavelength":2.273,"error":0.142},
  {"g":"g = 0.8","set":"all opacities","wavelength":2.342,"error":0.135},
  {"g":"g = 0.8","set":"all opacities","wavelength":2.508,"error":0.099},
  {"g":"g = 0.8","set":"all opacities","wavelength":2.562,"error":0.06}
 ]
},
"resolve": {"axis": {"x": "independent", "y": "independent"}},
"layer": [
  {"data": {"name": "curves"},
   "transform": [{"filter": "datum.g === 'g = 0' && datum.set === 'only main IR opac.'"}],
   "mark": {"type": "line", "clip": true, "strokeJoin": "round", "strokeCap": "butt"},
   "encoding": {
     "x": {"field": "wavelength", "type": "quantitative", "scale": {"type": "log", "domain": [0.5, 10], "nice": false},
       "axis": {"orient": "bottom", "values": [0.5, 1, 2, 3, 5, 10], "labelExpr": "datum.value + ''", "grid": true, "tickSize": 10, "tickWidth": 1.6, "labelPadding": 4, "labelFlush": false, "labelOverlap": false, "title": "wavelength (μm)", "titlePadding": 14}},
     "y": {"field": "error", "type": "quantitative", "scale": {"type": "log", "domain": [0.1, 100], "nice": false},
       "axis": {"orient": "left", "values": [0.1, 0.3, 1, 3, 10, 30, 100], "labelExpr": "datum.value + ''", "grid": true, "tickSize": 10, "tickWidth": 1.6, "labelPadding": 5, "labelFlush": false, "labelOverlap": false, "title": "error in F↑, TOA (%)", "titlePadding": 14}},
     "color": {"field": "g", "type": "nominal",
       "scale": {"domain": ["g = 0", "g = 0.2", "g = 0.5", "g = 0.8"], "range": ["#e41a1c", "#377eb8", "#4daf4a", "#984ea3"]},
       "legend": {"title": null, "orient": "none", "legendX": 0, "legendY": -77, "direction": "horizontal", "columns": 4, "symbolType": "stroke", "symbolSize": 3844, "symbolStrokeWidth": 6.5, "symbolOffset": 9, "labelOffset": 12, "columnPadding": 56, "padding": 0, "fillColor": "#f7ebdc", "strokeColor": "#cccccc", "cornerRadius": 5}},
     "strokeWidth": {"field": "set", "type": "ordinal",
       "scale": {"domain": ["all opacities", "only main IR opac."], "range": [6.5, 14]},
       "legend": {"title": null, "orient": "none", "legendX": 181, "legendY": 13, "direction": "vertical", "symbolType": "stroke", "symbolSize": 4096, "symbolStrokeColor": "black", "labelOffset": 6, "rowPadding": -22, "padding": 0}},
     "opacity": {"field": "set", "type": "ordinal",
       "scale": {"domain": ["all opacities", "only main IR opac."], "range": [1, 0.4]},
       "legend": {"title": null, "orient": "none", "legendX": 181, "legendY": 13, "direction": "vertical", "symbolType": "stroke", "symbolSize": 4096, "symbolStrokeColor": "black", "labelOffset": 6, "rowPadding": -22, "padding": 0}}
   }},
  {"data": {"name": "curves"},
   "transform": [{"filter": "datum.g === 'g = 0.2' && datum.set === 'only main IR opac.'"}],
   "mark": {"type": "line", "clip": true, "strokeJoin": "round", "strokeCap": "butt"},
   "encoding": {
     "x": {"field": "wavelength", "type": "quantitative", "scale": {"type": "log", "domain": [0.5, 10], "nice": false},
       "axis": {"orient": "bottom", "values": [0.6, 0.7, 0.8, 0.9, 4, 6, 7, 8, 9], "labels": false, "grid": false, "tickSize": 6, "tickWidth": 1.2, "title": null}},
     "y": {"field": "error", "type": "quantitative", "scale": {"type": "log", "domain": [0.1, 100], "nice": false},
       "axis": {"orient": "left", "values": [0.2, 0.4, 0.5, 0.6, 0.7, 0.8, 0.9, 2, 4, 5, 6, 7, 8, 9, 20, 40, 50, 60, 70, 80, 90], "labels": false, "grid": false, "tickSize": 6, "tickWidth": 1.2, "title": null}},
     "color": {"field": "g", "type": "nominal"},
     "strokeWidth": {"field": "set", "type": "ordinal"},
     "opacity": {"field": "set", "type": "ordinal"}
   }},
  {"data": {"name": "curves"},
   "encoding": {
     "x": {"field": "wavelength", "type": "quantitative", "scale": {"type": "log", "domain": [0.5, 10], "nice": false}, "axis": null},
     "y": {"field": "error", "type": "quantitative", "scale": {"type": "log", "domain": [0.1, 100], "nice": false}, "axis": null},
     "color": {"field": "g", "type": "nominal"},
     "strokeWidth": {"field": "set", "type": "ordinal"},
     "opacity": {"field": "set", "type": "ordinal"}
   },
   "layer": [
     {"transform": [{"filter": "datum.g === 'g = 0.5' && datum.set === 'only main IR opac.'"}],
      "mark": {"type": "line", "clip": true, "strokeJoin": "round", "strokeCap": "butt"}},
     {"transform": [{"filter": "datum.g === 'g = 0.8' && datum.set === 'only main IR opac.'"}],
      "mark": {"type": "line", "clip": true, "strokeJoin": "round", "strokeCap": "butt"}},
     {"transform": [{"filter": "datum.g === 'g = 0' && datum.set === 'all opacities'"}],
      "mark": {"type": "line", "clip": true, "strokeJoin": "round", "strokeCap": "butt"}},
     {"transform": [{"filter": "datum.g === 'g = 0.2' && datum.set === 'all opacities'"}],
      "mark": {"type": "line", "clip": true, "strokeJoin": "round", "strokeCap": "butt"}},
     {"transform": [{"filter": "datum.g === 'g = 0.5' && datum.set === 'all opacities'"}],
      "mark": {"type": "line", "clip": true, "strokeJoin": "round", "strokeCap": "butt"}},
     {"transform": [{"filter": "datum.g === 'g = 0.8' && datum.set === 'all opacities'"}],
      "mark": {"type": "line", "clip": true, "strokeJoin": "round", "strokeCap": "butt"}}
   ]},
  {"data": {"values": [{"planet": "HD 189733b"}]},
   "mark": {"type": "text", "align": "right", "baseline": "middle", "fontSize": 40, "font": "DejaVu Sans", "color": "black"},
   "encoding": {
     "x": {"datum": 9.43, "type": "quantitative", "scale": {"type": "log", "domain": [0.5, 10], "nice": false}, "axis": null},
     "y": {"datum": 64, "type": "quantitative", "scale": {"type": "log", "domain": [0.1, 100], "nice": false}, "axis": null},
     "text": {"field": "planet"}
   }}
]
}
